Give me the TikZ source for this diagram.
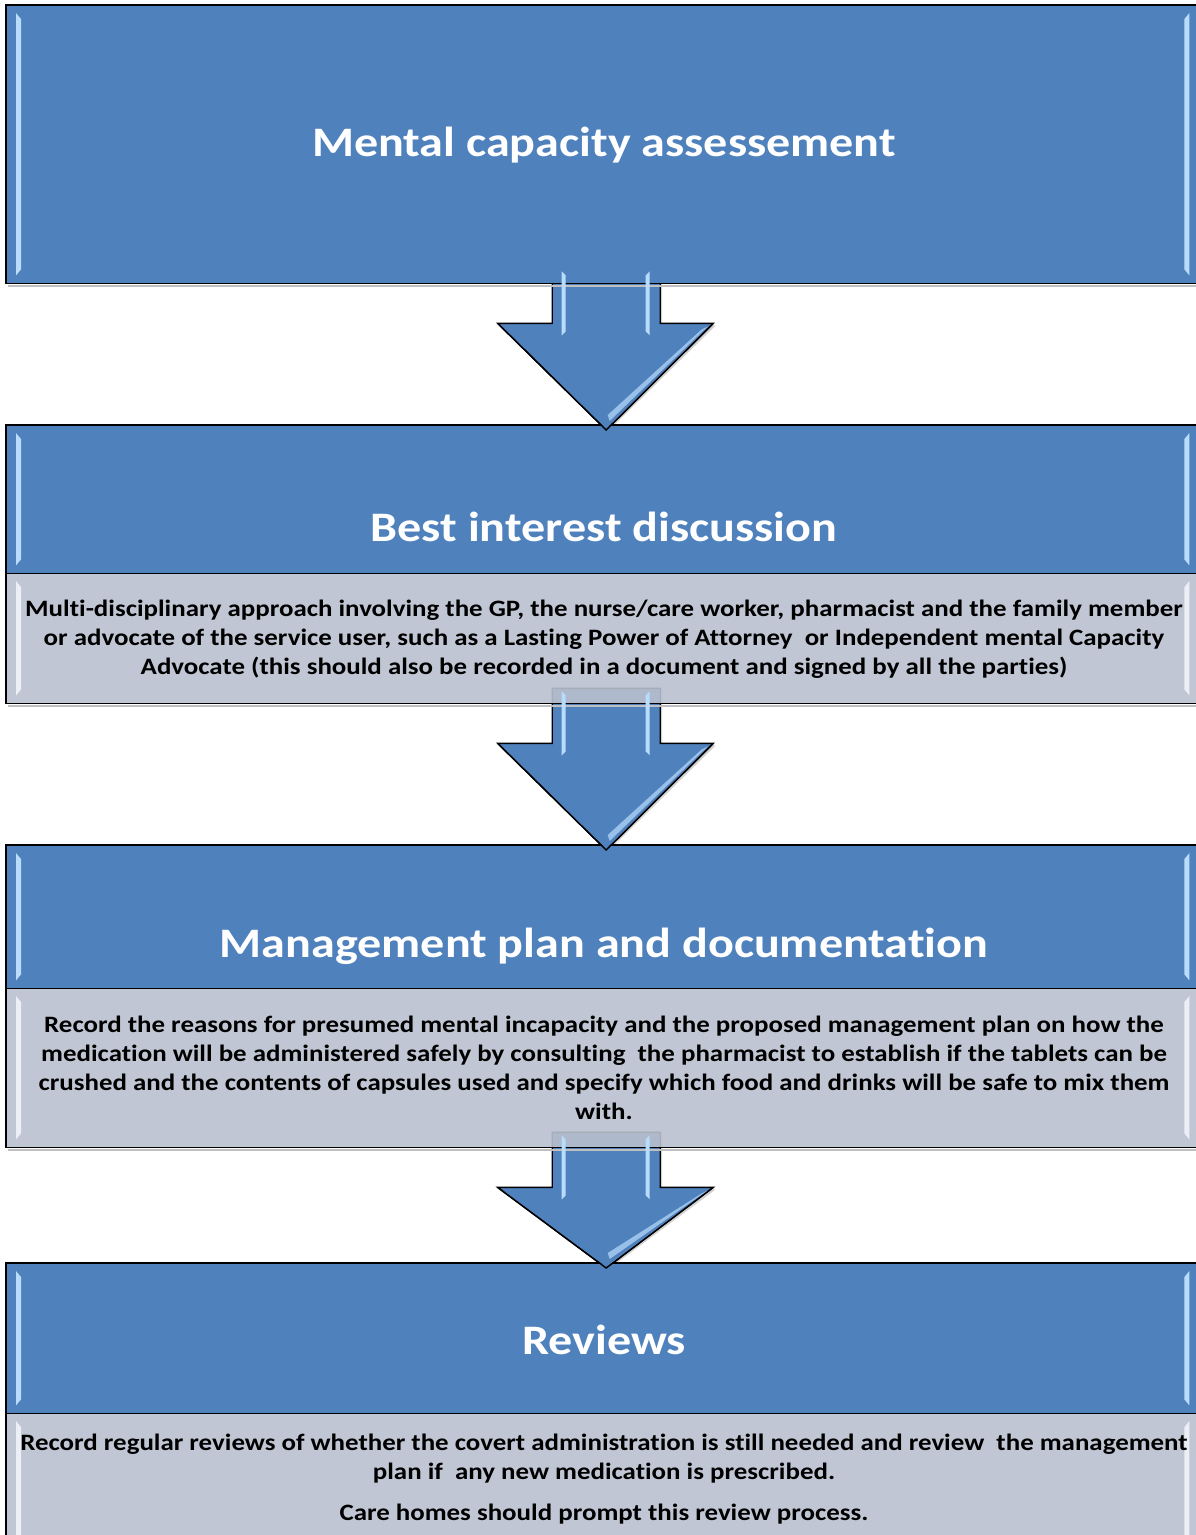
\documentclass[tikz,border=0pt]{standalone}
\usepackage{fontspec}
\setmainfont{Carlito}[RawFeature={-liga;-clig;-calt}]
\usetikzlibrary{calc}
\definecolor{hdrblue}{RGB}{79,129,189}
\definecolor{bodygrey}{RGB}{192,198,211}
\definecolor{bodygreyT}{RGB}{185,192,206}
\definecolor{glint}{RGB}{185,220,252}
\definecolor{paleglint}{RGB}{236,239,246}

\begin{document}
\begin{tikzpicture}[x=1pt,y=-1pt,
  frame/.style={draw=black, line width=1.4pt},
  panel/.style={rectangle, anchor=north west, inner sep=0pt, minimum width=1195pt},
  title/.style={text=white, font=\fontsize{42}{50}\selectfont\bfseries, xscale=1.145, transform shape},
  txt/.style={text=black, font=\fontsize{23.5}{29}\selectfont\bfseries, align=center, xscale=1.145, transform shape}
]
\useasboundingbox (0,0) rectangle (1195,1535);

% ---- block arrow body between two panels ----
\newcommand\flowarrow[2]{%
  \fill[black!30, opacity=0.6]
    ($(#1.south)+(-51.5,-15)$) -- ($(#1.south)+(-51.5,42)$) -- ($(#1.south)+(-105,42)$)
    -- ($(#2.north)+(3.5,7)$) -- ($(#1.south)+(112,42)$) -- ($(#1.south)+(58.5,42)$)
    -- ($(#1.south)+(58.5,-15)$) -- cycle;
  \draw[frame, fill=hdrblue, line join=miter]
    ($(#1.south)+(-51.5,-15)$) -- ($(#1.south)+(-51.5,40)$) -- ($(#1.south)+(-106,40)$)
    -- ($(#2.north)+(2.5,5)$) -- ($(#1.south)+(109.5,40)$) -- ($(#1.south)+(56.5,40)$)
    -- ($(#1.south)+(56.5,-15)$) -- cycle;
}
% ---- arrow head laid over the next panel's top edge, plus glossy highlights ----
\newcommand\arrowglint[2]{%
  \fill[hdrblue] ($(#1.south)+(-100,44)$) -- ($(#2.north)+(2.5,4)$) -- ($(#1.south)+(104,44)$) -- cycle;
  \draw[frame, line join=miter] ($(#1.south)+(-106,40)$) -- ($(#2.north)+(2.5,5)$) -- ($(#1.south)+(109.5,40)$);
  \fill[glint] ($(#1.south)+(-42,-12)$) -- ($(#1.south)+(-38,-8)$) -- ($(#1.south)+(-38,48)$)
    -- ($(#1.south)+(-42,52)$) -- cycle;
  \fill[glint] ($(#1.south)+(46,-12)$) -- ($(#1.south)+(42,-8)$) -- ($(#1.south)+(42,48)$)
    -- ($(#1.south)+(46,52)$) -- cycle;
  \fill[glint, opacity=0.7] ($(#1.south)+(98,46)$) -- ($(#1.south)+(104,43)$)
    -- ($(#2.north)+(6,-4)$) -- ($(#2.north)+(4,-10)$) -- cycle;
}

% ---- bevel strips down the sides of a panel ----
\newcommand\bevel[2]{%
  \fill[#2] ($(#1.north west)+(10,8)$) -- ($(#1.north west)+(15,14)$)
    -- ($(#1.south west)+(15,-14)$) -- ($(#1.south west)+(10,-8)$) -- cycle;
  \fill[#2] ($(#1.north east)+(-12,8)$) -- ($(#1.north east)+(-17,14)$)
    -- ($(#1.south east)+(-17,-14)$) -- ($(#1.south east)+(-12,-8)$) -- cycle;
}

% panel frames (placed first so the arrows can refer to them)
\path (6,5)    node[panel, minimum height=278pt] (cap) {};
\path (6,425)  node[panel, minimum height=148pt] (bih) {};
\path (6,573)  node[panel, minimum height=130pt] (bib) {};
\path (6,845)  node[panel, minimum height=143pt] (mph) {};
\path (6,988)  node[panel, minimum height=159pt] (mpb) {};
\path (6,1263) node[panel, minimum height=150pt] (rvh) {};
\path (6,1413) node[panel, minimum height=140pt] (rvb) {};

% arrows go underneath the panels
\flowarrow{cap}{bih}
\flowarrow{bib}{mph}
\flowarrow{mpb}{rvh}

% panel fills and outlines
\fill[hdrblue] (cap.north west) rectangle (cap.south east);
\draw[frame] (cap.north west) rectangle (cap.south east);
\fill[hdrblue] (bih.north west) rectangle (bih.south east);
\fill[bodygreyT, opacity=0.9] (bib.north west) rectangle (bib.south east);
\draw[frame] (bih.north west) rectangle (bib.south east);
\draw[frame] (bih.south west) -- (bih.south east);
\fill[hdrblue] (mph.north west) rectangle (mph.south east);
\fill[bodygreyT, opacity=0.9] (mpb.north west) rectangle (mpb.south east);
\draw[frame] (mph.north west) rectangle (mpb.south east);
\draw[frame] (mph.south west) -- (mph.south east);
\fill[hdrblue] (rvh.north west) rectangle (rvh.south east);
\fill[bodygrey] (rvb.north west) rectangle (rvb.south east);
\draw[frame] (rvh.north west) rectangle (rvb.south east);
\draw[frame] (rvh.south west) -- (rvh.south east);

% soft shadows under panels
\foreach \p in {cap,bib,mpb}{
  \fill[black!25] ($(\p.south west)+(2,1.5)$) rectangle ($(\p.south east)+(2,4)$);
}

\bevel{cap}{glint}
\bevel{bih}{glint}
\bevel{bib}{paleglint}
\bevel{mph}{glint}
\bevel{mpb}{paleglint}
\bevel{rvh}{glint}
\bevel{rvb}{paleglint}

\arrowglint{cap}{bih}
\arrowglint{bib}{mph}
\arrowglint{mpb}{rvh}

% headings
\node[title] (capt) at (604,145) {Mental capacity assessement};
\node[title] (bit)  at (604,527) {Best interest discussion};
\node[title] (mpt)  at (604,946) {Management plan and documentation};
\node[title] (rvt)  at (604,1340) {Reviews};

% body texts
\node[txt] (bix) at (604,639) {Multi-disciplinary approach involving the GP, the nurse/care worker, pharmacist and the family member\\
or advocate of the service user, such as a Lasting Power of Attorney\ \ or Independent mental Capacity\\
Advocate (this should also be recorded in a document and signed by all the parties)};
\node[txt] (mpx) at (604,1068) {Record the reasons for presumed mental incapacity and the proposed management plan on how the\\
medication will be administered safely by consulting\ \ the pharmacist to establish if the tablets can be\\
crushed and the contents of capsules used and specify which food and drinks will be safe to mix them\\
with.};
\node[txt] (rvx) at (604,1479) {Record regular reviews of whether the covert administration is still needed and review\ \ the management\\
plan if\ \ any new medication is prescribed.\\[12pt]
Care homes should prompt this review process.};
\end{tikzpicture}
\end{document}
